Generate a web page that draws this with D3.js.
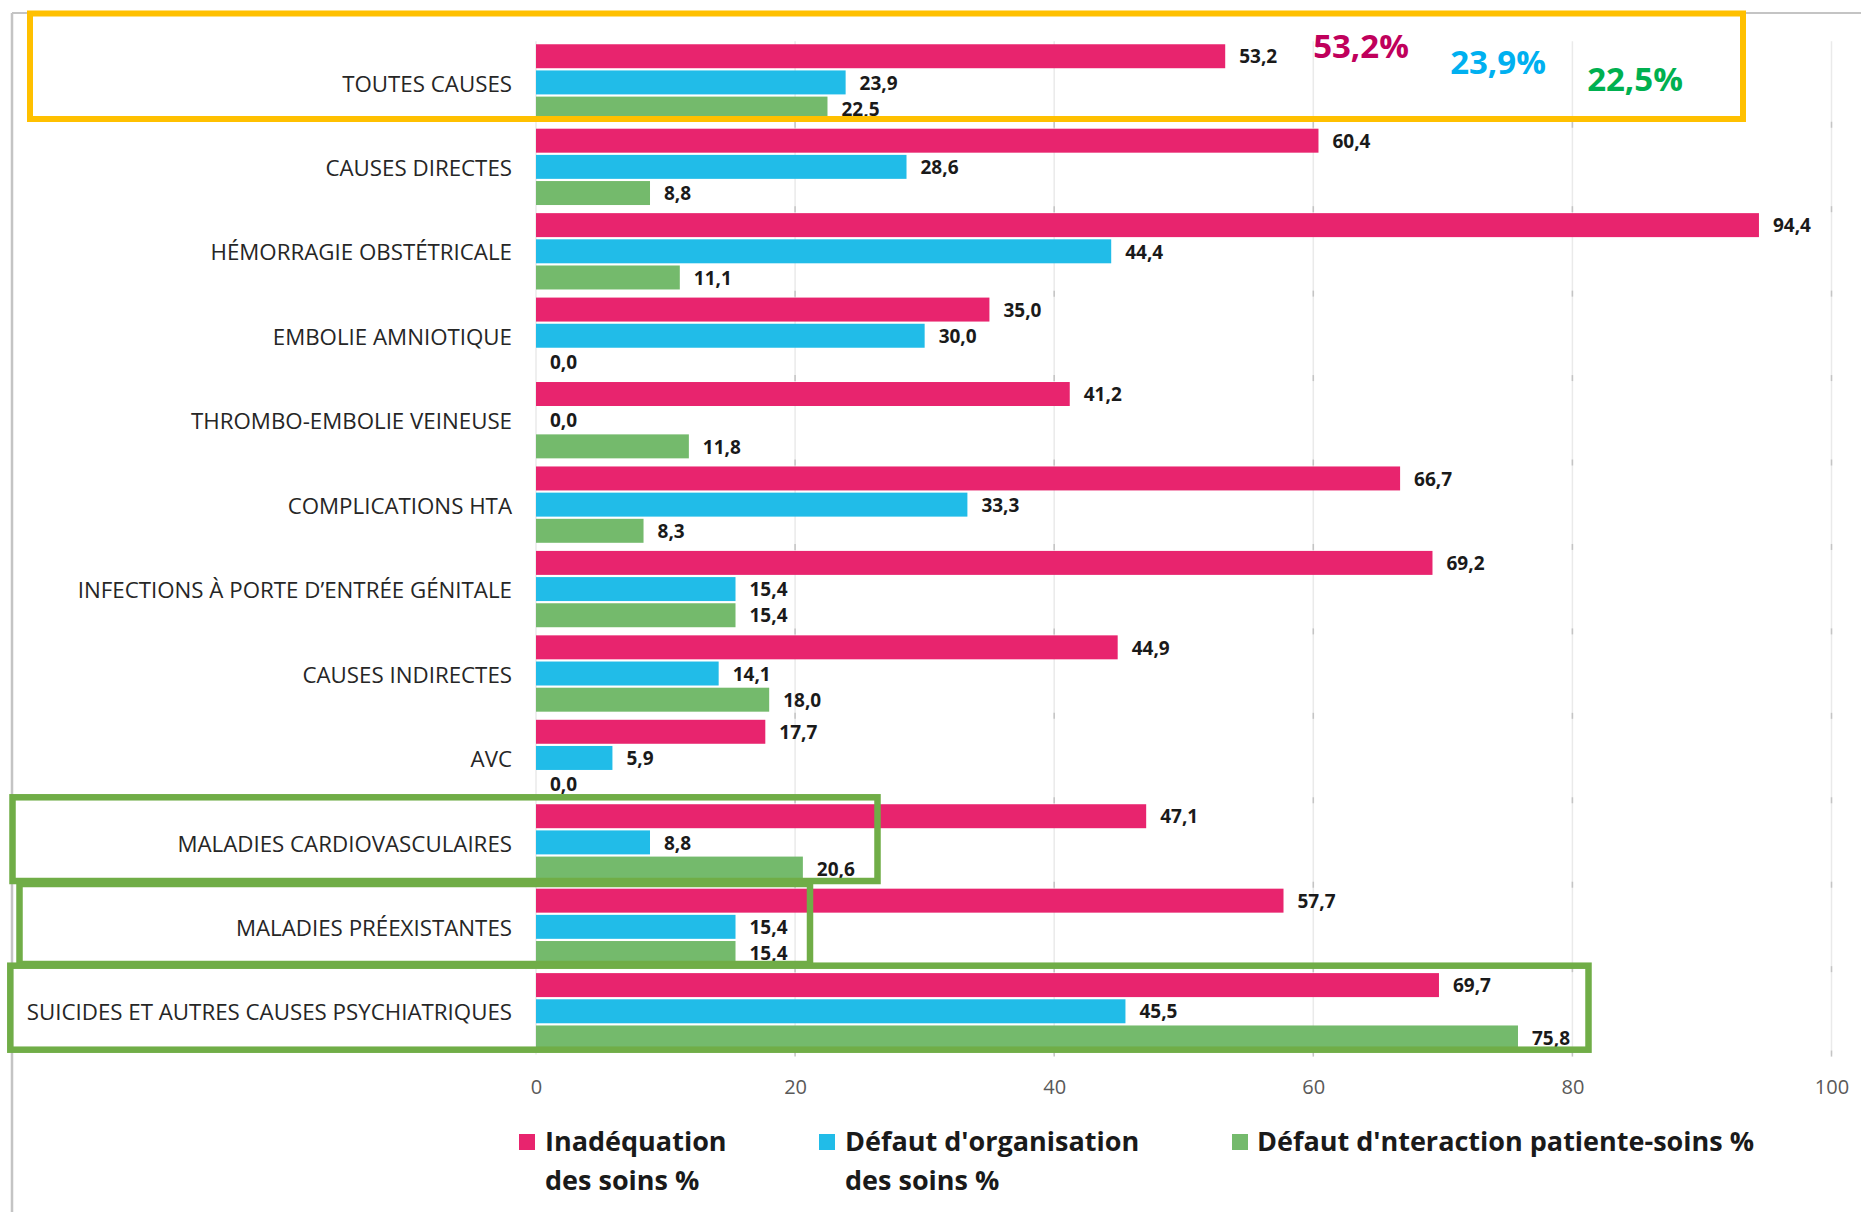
<!DOCTYPE html>
<html>
<head>
<meta charset="utf-8">
<script src="https://cdn.jsdelivr.net/npm/d3@7"></script>
<style>
  html, body { margin: 0; padding: 0; background: #ffffff; }
  svg { display: block; }
</style>
</head>
<body>
<svg id="chart" width="1861" height="1212"></svg>
<script>
// ---------------- DATA ----------------
const categories = [
  "TOUTES CAUSES",
  "CAUSES DIRECTES",
  "HÉMORRAGIE OBSTÉTRICALE",
  "EMBOLIE AMNIOTIQUE",
  "THROMBO-EMBOLIE VEINEUSE",
  "COMPLICATIONS HTA",
  "INFECTIONS À PORTE D’ENTRÉE GÉNITALE",
  "CAUSES INDIRECTES",
  "AVC",
  "MALADIES CARDIOVASCULAIRES",
  "MALADIES PRÉEXISTANTES",
  "SUICIDES ET AUTRES CAUSES PSYCHIATRIQUES"
];
const inadequation = [53.2, 60.4, 94.4, 35.0, 41.2, 66.7, 69.2, 44.9, 17.7, 47.1, 57.7, 69.7];
const organisation = [23.9, 28.6, 44.4, 30.0, 0.0, 33.3, 15.4, 14.1, 5.9, 8.8, 15.4, 45.5];
const interaction  = [22.5, 8.8, 11.1, 0.0, 11.8, 8.3, 15.4, 18.0, 0.0, 20.6, 15.4, 75.8];
const seriesNames = [
  ["Inadéquation", "des soins %"],
  ["Défaut d'organisation", "des soins %"],
  ["Défaut d'nteraction patiente-soins %"]
];
const xTicks = [0, 20, 40, 60, 80, 100];
const highlights = ["53,2%", "23,9%", "22,5%"];

// ---------------- STYLE ----------------
const colors = ["#E8246E", "#21BCE8", "#74BA6C"];
const highlightColors = ["#C0005C", "#00B0F0", "#00B050"];
const FONT = "'Open Sans', 'DejaVu Sans', sans-serif";

const svg = d3.select("#chart");
const series = [inadequation, organisation, interaction];
const rows = categories.map((c, i) => ({ cat: c, vals: series.map(s => s[i]) }));

// scales
const x = d3.scaleLinear().domain([0, 100]).range([536, 1831.5]);
const y = d3.scaleBand().domain(categories).range([41.3, 1054.6])
  .paddingInner(0.07).paddingOuter(0.035);
const yi = d3.scaleBand().domain([0, 1, 2]).range([0, y.bandwidth()]);

// frame lines
svg.append("line").attr("x1", 12).attr("x2", 12).attr("y1", 13).attr("y2", 1212)
  .attr("stroke", "#C4C4C4").attr("stroke-width", 2.5);
svg.append("line").attr("x1", 12).attr("x2", 1861).attr("y1", 13).attr("y2", 13)
  .attr("stroke", "#C4C4C4").attr("stroke-width", 2);

// gridlines
const grid = svg.append("g");
grid.selectAll("line.g").data(xTicks).join("line")
  .attr("x1", d => x(d)).attr("x2", d => x(d))
  .attr("y1", y.range()[0]).attr("y2", y.range()[1])
  .attr("stroke", "#EAEAEA").attr("stroke-width", 1.5);
// small marks at band boundaries
const step = y.step();
const bounds = d3.range(1, categories.length + 1).map(k => y.range()[0] + k * step);
xTicks.slice(1).forEach(t => {
  grid.selectAll(null).data(bounds).join("line")
    .attr("x1", x(t)).attr("x2", x(t))
    .attr("y1", d => d - 4).attr("y2", d => d + 2)
    .attr("stroke", "#C4C4C4").attr("stroke-width", 1.5);
});

// bars
const groups = svg.append("g").selectAll("g").data(rows).join("g")
  .attr("transform", d => `translate(0,${y(d.cat)})`);
groups.selectAll("rect").data(d => d.vals).join("rect")
  .attr("x", x(0))
  .attr("y", (d, i) => yi(i))
  .attr("width", d => x(d) - x(0))
  .attr("height", yi.bandwidth() - 2.2)
  .attr("fill", (d, i) => colors[i]);

// value labels
groups.selectAll("text").data(d => d.vals).join("text")
  .attr("x", d => x(d) + 14)
  .attr("y", (d, i) => yi(i) + (yi.bandwidth() - 2.2) / 2)
  .attr("dy", "0.38em")
  .attr("font-family", FONT).attr("font-weight", 700).attr("font-size", 19)
  .attr("fill", "#1a1a1a")
  .text(d => d3.format(".1f")(d).replace(".", ","));

// category labels
svg.append("g").selectAll("text").data(categories).join("text")
  .attr("x", 512).attr("y", d => y(d) + y.bandwidth() / 2)
  .attr("dy", "0.36em").attr("text-anchor", "end")
  .attr("font-family", FONT).attr("font-size", 22.3).attr("fill", "#262626")
  .text(d => d);

// x axis
const axis = svg.append("g").attr("transform", `translate(0,${y.range()[1]})`)
  .call(d3.axisBottom(x).tickValues(xTicks).tickSize(0).tickPadding(25).tickFormat(d3.format("d")));
axis.select(".domain").remove();
axis.selectAll("text").attr("font-family", FONT).attr("font-size", 20).attr("fill", "#595959");

// highlight boxes
svg.append("rect").attr("x", 30).attr("y", 13.5).attr("width", 1713).attr("height", 105.5)
  .attr("fill", "none").attr("stroke", "#FFC000").attr("stroke-width", 6);
const boxes = [
  { x0: 12.5, y0: 797.3, x1: 877.5, y1: 881 },
  { x0: 19.5, y0: 884, x1: 810, y1: 964 },
  { x0: 10.3, y0: 965.7, x1: 1588.5, y1: 1049.7 }
];
svg.append("g").selectAll("rect").data(boxes).join("rect")
  .attr("x", d => d.x0).attr("y", d => d.y0)
  .attr("width", d => d.x1 - d.x0).attr("height", d => d.y1 - d.y0)
  .attr("fill", "none").attr("stroke", "#70AD47").attr("stroke-width", 6.5);

// highlight numbers
const hlPos = [[1361, 46], [1498, 62], [1635, 79]];
svg.append("g").selectAll("text").data(highlights).join("text")
  .attr("x", (d, i) => hlPos[i][0]).attr("y", (d, i) => hlPos[i][1])
  .attr("dy", "0.36em").attr("text-anchor", "middle")
  .attr("font-family", FONT).attr("font-weight", 700).attr("font-size", 33)
  .attr("fill", (d, i) => highlightColors[i])
  .text(d => d);

// legend
const legX = [[519, 545], [819, 845], [1232, 1257]];
const leg = svg.append("g").selectAll("g").data(seriesNames).join("g");
leg.append("rect").attr("x", (d, i) => legX[i][0]).attr("y", 1134)
  .attr("width", 16).attr("height", 16).attr("fill", (d, i) => colors[i]);
leg.each(function (lines, i) {
  d3.select(this).selectAll("text").data(lines).join("text")
    .attr("x", legX[i][1]).attr("y", (d, j) => 1151 + j * 39)
    .attr("font-family", FONT).attr("font-weight", 700).attr("font-size", 27)
    .attr("fill", "#1a1a1a").text(d => d);
});
</script>
</body>
</html>
